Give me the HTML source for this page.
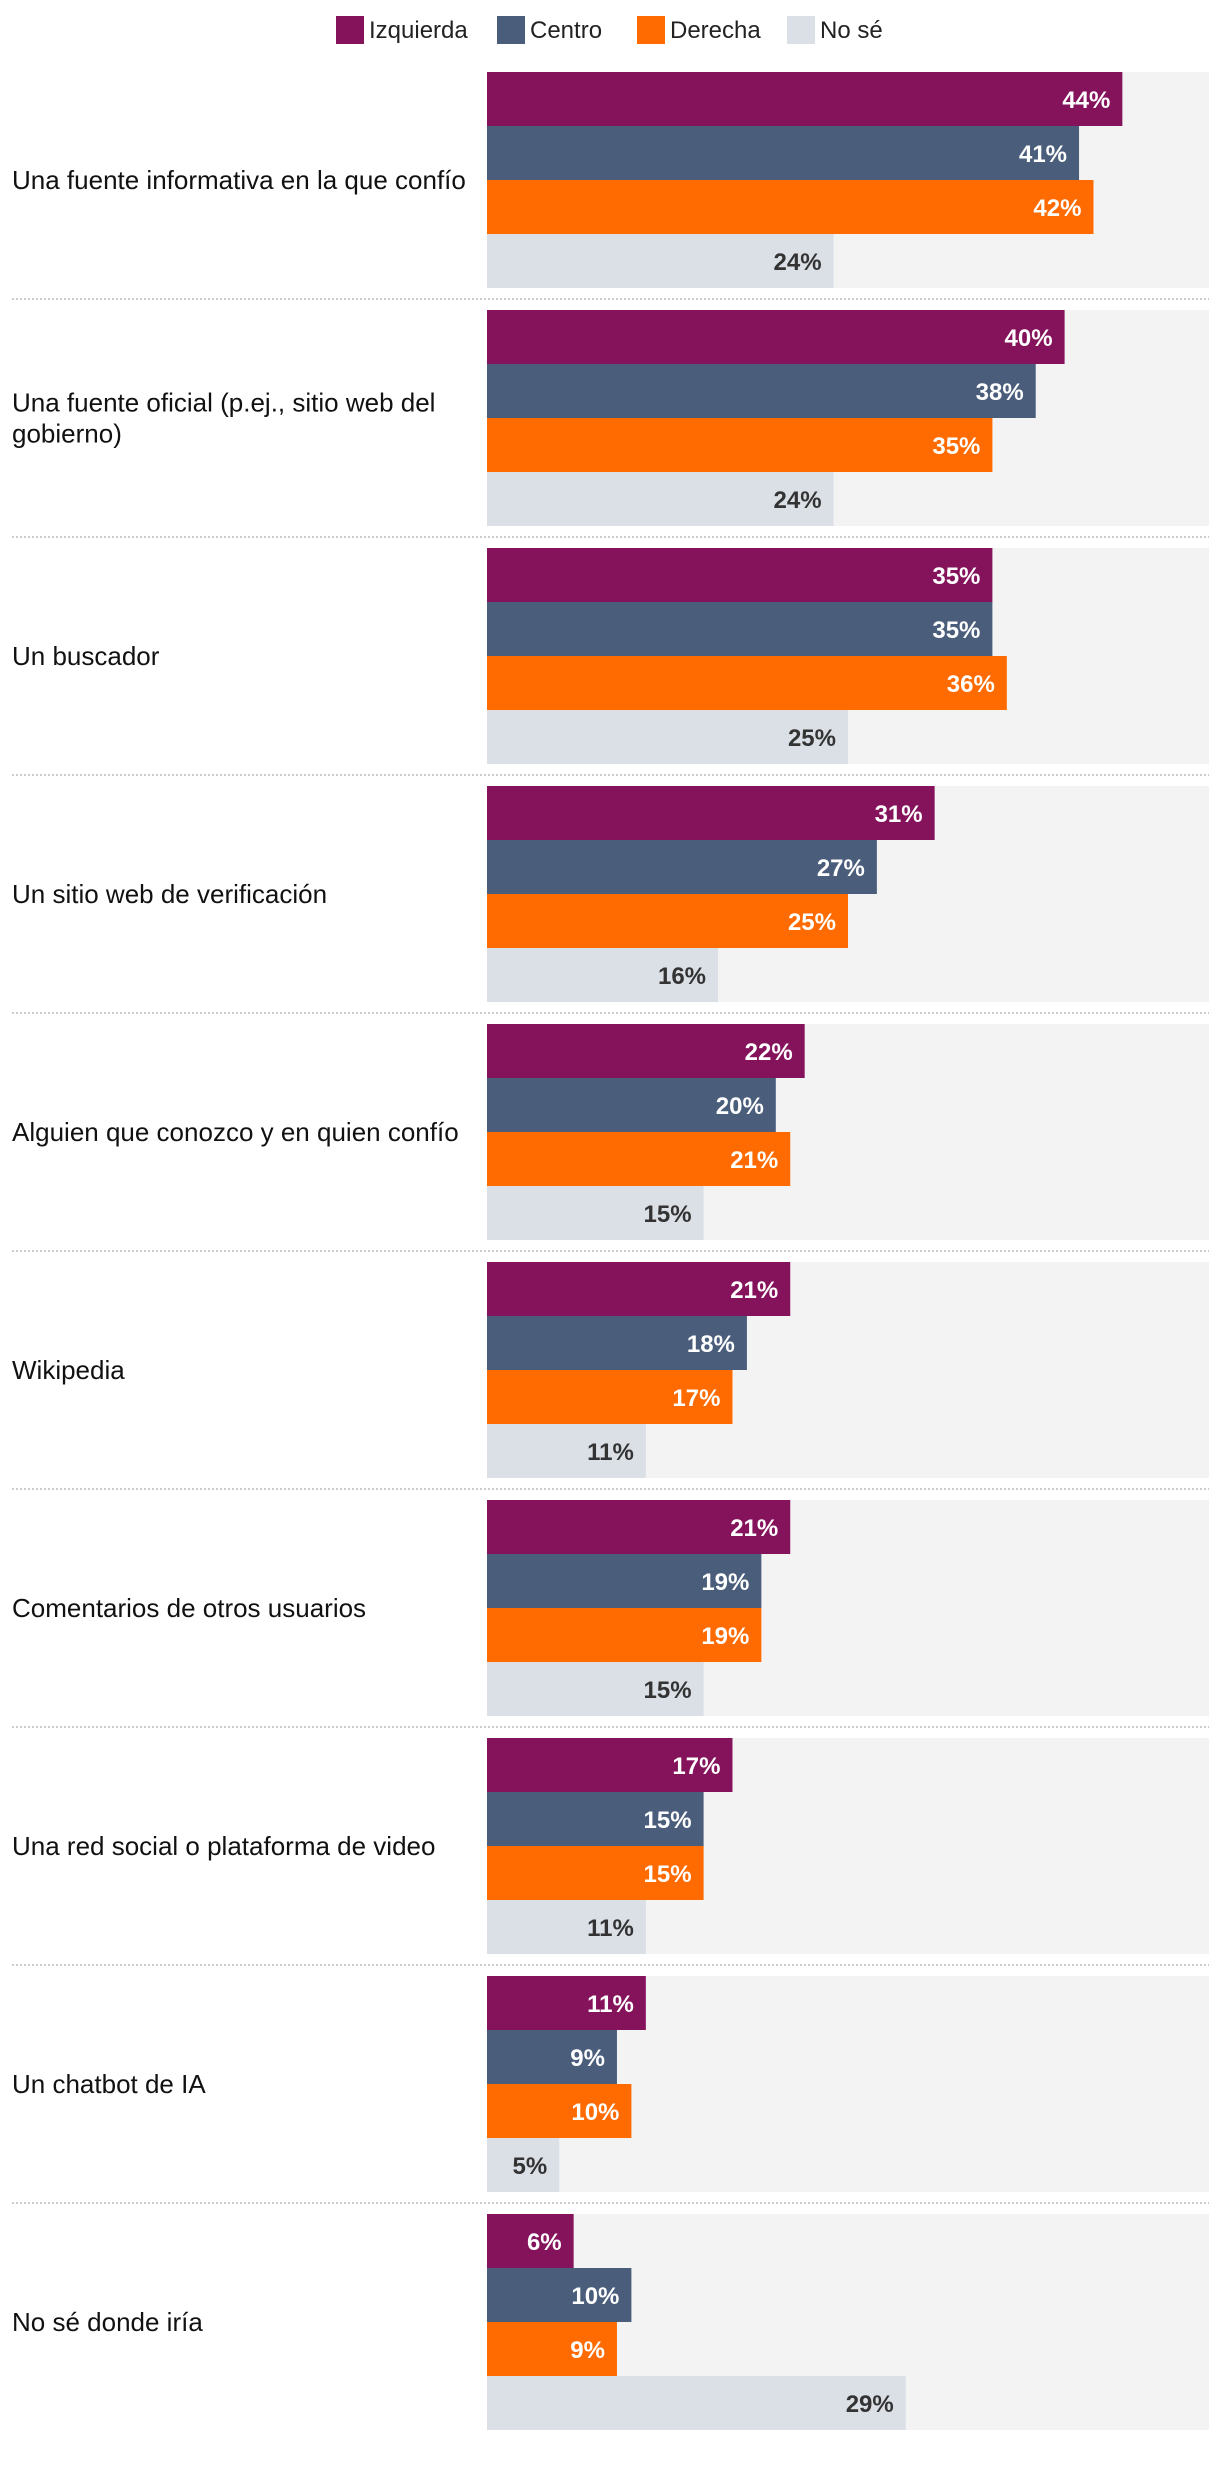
<!DOCTYPE html>
<html><head><meta charset="utf-8"><style>
html,body{margin:0;padding:0;background:#fff;}
svg{display:block;font-family:"Liberation Sans",sans-serif;}
</style></head><body>
<svg id="chart" width="1220" height="2482" viewBox="0 0 1220 2482">
<g id="legend"></g>
<g id="plot"></g>
</svg>
<script>
const categories = [
  ["Una fuente informativa en la que confío"],
  ["Una fuente oficial (p.ej., sitio web del","gobierno)"],
  ["Un buscador"],
  ["Un sitio web de verificación"],
  ["Alguien que conozco y en quien confío"],
  ["Wikipedia"],
  ["Comentarios de otros usuarios"],
  ["Una red social o plataforma de video"],
  ["Un chatbot de IA"],
  ["No sé donde iría"]
];
const seriesNames = ["Izquierda","Centro","Derecha","No sé"];
const izquierda = [44,40,35,31,22,21,21,17,11,6];
const centro = [41,38,35,27,20,18,19,15,9,10];
const derecha = [42,35,36,25,21,17,19,15,10,9];
const nose = [24,24,25,16,15,11,15,11,5,29];
const series = [izquierda, centro, derecha, nose];
const colors = ["#85135C","#4A5E7C","#FF6B00","#DBDFE6"];
const labelColors = ["#fff","#fff","#fff","#333"];
const xMax = 50;

const NS = "http://www.w3.org/2000/svg";
const X0 = 487, X1 = 1209, TOP = 72, BAR_H = 54, PITCH = 238;
function x(v){ return X0 + (X1 - X0) * v / xMax; }
function mk(tag, attrs, parent){ const e = document.createElementNS(NS, tag); for (const k in attrs) e.setAttribute(k, attrs[k]); parent.appendChild(e); return e; }

const legend = document.getElementById('legend');
const legX = [336, 497, 637, 787];
seriesNames.forEach((n,i)=>{
  const g = mk('g',{},legend);
  
  
  mk('rect',{x:legX[i],y:16,width:28,height:28,fill:colors[i]},g);
  const t = mk('text',{x:legX[i]+33,y:38,'font-size':24,fill:'#222'},g);
  t.textContent = n;
});

const plot = document.getElementById('plot');
categories.forEach((lines, ci)=>{
  const gy = TOP + ci * PITCH;
  const g = mk('g',{},plot);
  
  
  const track = mk('rect',{x:X0,y:gy,width:X1-X0,height:BAR_H*4,fill:'#F3F3F3'},g);
  
  
  const cy = gy + BAR_H*2;
  const lh = 31;
  const startY = cy + 9 - (lines.length-1)*lh/2;
  const lab = mk('text',{x:12,y:startY,'font-size':26,fill:'#111'},g);
  
  
  lines.forEach((l,li)=>{ const ts = mk('tspan',{x:12,y:startY+li*lh},lab); ts.textContent = l; });
  series.forEach((s, si)=>{
    const v = s[ci];
    const by = gy + si*BAR_H;
    const r = mk('rect',{x:X0,y:by,width:x(v)-X0,height:BAR_H,fill:colors[si]},g);
    
    
    const t = mk('text',{x:x(v)-12,y:by+BAR_H/2+9,'font-size':24,'font-weight':'bold','text-anchor':'end',fill:labelColors[si]},g);
    
    
    t.textContent = v + '%';
  });
  if (ci < categories.length - 1) {
    const sep = mk('line',{x1:12,x2:1209,y1:gy+227,y2:gy+227,stroke:'#ccc','stroke-width':2,'stroke-dasharray':'2,2'},g);
    
    
  }
});
</script>
</body></html>
